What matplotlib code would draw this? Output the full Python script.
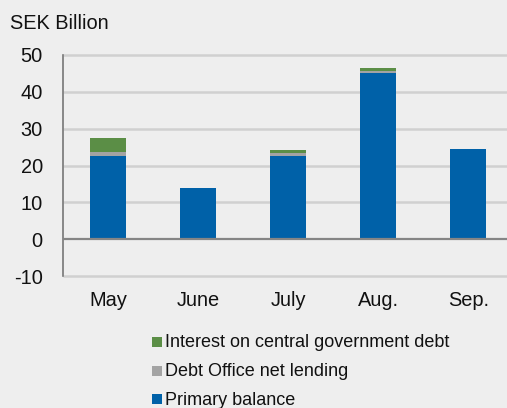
import matplotlib
matplotlib.use("Agg")
import matplotlib.pyplot as plt
from matplotlib.patches import Rectangle
import numpy as np

plt.rcParams['font.family'] = ['Liberation Sans', 'DejaVu Sans']

months = ["May", "June", "July", "Aug.", "Sep."]
primary = [22.7, 13.9, 22.7, 45.2, 24.5]
lending = [0.9, 0.0, 0.8, 0.5, 0.0]
interest = [4.0, 0.1, 0.7, 0.8, 0.0]
yticks = [-10, 0, 10, 20, 30, 40, 50]
legend_labels = ["Interest on central government debt", "Debt Office net lending", "Primary balance"]

c_blue = "#0061A8"
c_gray = "#A3A3A3"
c_green = "#5B8E46"
bg = "#EEEEEE"
txt = "#111111"

W, H = 507, 408
fig = plt.figure(figsize=(W / 100, H / 100), dpi=100, facecolor=bg)
ax = fig.add_axes([63 / W, (H - 276) / H, (W - 63) / W, (276 - 55) / H], facecolor=bg)

x = np.arange(len(months))
p = np.array(primary)
l = np.array(lending)
i = np.array(interest)
bw = 0.4
ax.bar(x, p, bw, color=c_blue, zorder=3)
ax.bar(x, l, bw, bottom=p, color=c_gray, zorder=3)
ax.bar(x, i, bw, bottom=p + l, color=c_green, zorder=3)

ax.set_ylim(-10, 50)
ax.set_xlim(-0.5, 4.43)
ax.set_yticks(yticks)
ax.set_yticklabels([str(v) for v in yticks])
ax.set_xticks(x)
ax.set_xticklabels(months)
ax.tick_params(axis='both', length=0, labelsize=14.4, colors=txt)
ax.tick_params(axis='y', pad=14.5)
ax.tick_params(axis='x', pad=11)
grid_y = [v for v in yticks if v != 0]
ax.hlines(grid_y, -0.5, 4.43, colors="#D0D0D0", linewidths=1.8, zorder=2, clip_on=False)
ax.axhline(0, color="#858585", lw=1.6, zorder=4)
for s in ['top', 'right', 'bottom']:
    ax.spines[s].set_visible(False)
ax.spines['left'].set_color("#777777")
ax.spines['left'].set_linewidth(1.2)

fig.text(10 / W, 1 - 29.3 / H, "SEK Billion", fontsize=14.4, va='baseline', ha='left', color=txt)

leg_colors = [c_green, c_gray, c_blue]
baselines = [347.3, 376.0, 404.7]
for lab, col, bl in zip(legend_labels, leg_colors, baselines):
    fig.add_artist(Rectangle((152.3 / W, 1 - (bl - 0.3) / H), 10 / W, 10 / H,
                             transform=fig.transFigure, color=col, lw=0))
    fig.text(165 / W, 1 - bl / H, lab, fontsize=13.0, va='baseline', ha='left', color=txt)

fig.savefig("out.png", dpi=100, facecolor=bg)
